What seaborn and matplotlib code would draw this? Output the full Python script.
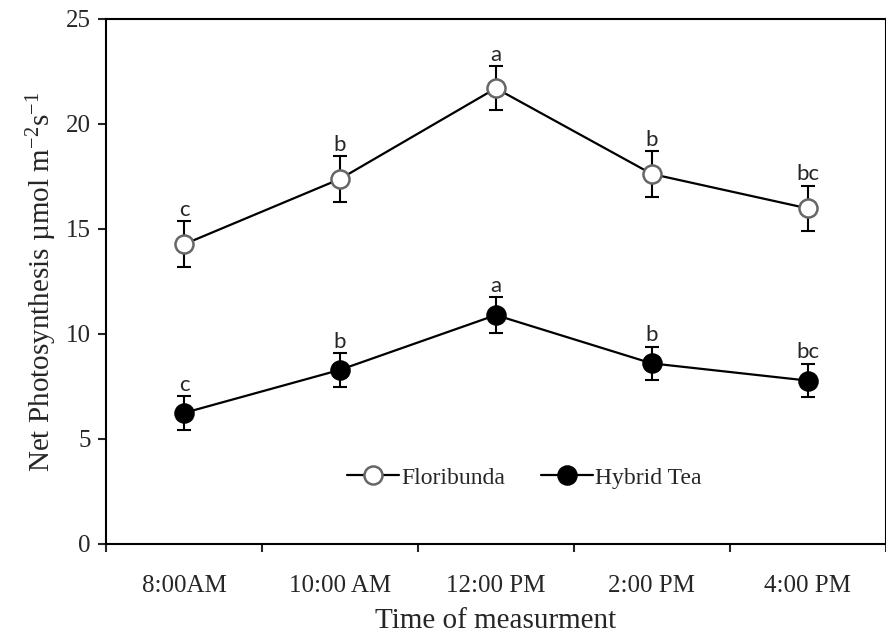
import numpy as np
import pandas as pd
import seaborn as sns
import matplotlib.pyplot as plt

# values
times = ["8:00AM", "10:00 AM", "12:00 PM", "2:00 PM", "4:00 PM"]
floribunda = [14.27, 17.38, 21.7, 17.62, 15.98]
floribunda_err = [1.1, 1.1, 1.05, 1.08, 1.08]
hybrid_tea = [6.24, 8.29, 10.9, 8.6, 7.78]
hybrid_tea_err = [0.8, 0.8, 0.85, 0.8, 0.8]
floribunda_letters = ["c", "b", "a", "b", "bc"]
hybrid_tea_letters = ["c", "b", "a", "b", "bc"]

df = pd.DataFrame({
    "pos": list(range(len(times))) * 2,
    "value": floribunda + hybrid_tea,
    "err": floribunda_err + hybrid_tea_err,
    "cultivar": ["Floribunda"] * len(times) + ["Hybrid Tea"] * len(times),
    "letter": floribunda_letters + hybrid_tea_letters,
})

sns.set_style("ticks")
plt.rcParams['font.family'] = ['Liberation Serif', 'DejaVu Serif']
plt.rcParams['mathtext.fontset'] = 'custom'
plt.rcParams['mathtext.rm'] = 'Liberation Serif'
plt.rcParams['mathtext.it'] = 'Liberation Serif:italic'

fig = plt.figure(figsize=(8.87, 6.39), dpi=100)
ax = fig.add_axes([0.1195, 0.1487, 0.879, 0.8216])

styles = {
    "Floribunda": dict(marker="o", markerfacecolor="white", markeredgecolor="#666666"),
    "Hybrid Tea": dict(marker="o", markerfacecolor="black", markeredgecolor="black"),
}

for name, sub in df.groupby("cultivar"):
    ax.errorbar(sub["pos"], sub["value"], yerr=sub["err"], fmt="none",
                ecolor="black", elinewidth=1.5, capsize=5, capthick=1.5, zorder=2)
    sns.lineplot(data=sub, x="pos", y="value", ax=ax, color="black", lw=1.6,
                 markersize=13, markeredgewidth=1.8, label=name, zorder=3,
                 **styles[name])
    for _, r in sub.iterrows():
        ax.annotate(r["letter"], (r["pos"], r["value"] + r["err"]),
                    xytext=(0, 1), textcoords="offset points", ha="center",
                    va="bottom", fontsize=16, family=["Lato", "DejaVu Sans"])

ax.set_xlim(-0.5, len(times) - 0.5)
ax.set_ylim(0, 25)
ax.set_yticks(range(0, 26, 5))
ax.set_xticks(np.arange(-0.5, len(times), 1.0))
ax.set_xticklabels([])
ax.set_xticks(range(len(times)), minor=True)
ax.set_xticklabels(times, minor=True)
ax.tick_params(axis="x", which="minor", length=0, pad=22, labelsize=18)
ax.tick_params(axis="x", which="major", length=6, width=1.5, direction="out")
ax.tick_params(axis="y", length=6, width=1.5, direction="out", labelsize=18, pad=5)

for s in ax.spines.values():
    s.set_linewidth(1.5)
    s.set_color("black")

ax.set_xlabel("Time of measurment", fontsize=21, labelpad=8)
ax.set_ylabel(r"Net Photosynthesis µmol m$^{\mathregular{-2}}$s$^{\mathregular{-1}}$",
              fontsize=21, labelpad=5)

ax.legend(loc="center", bbox_to_anchor=(0.537, 0.126), ncol=2, frameon=False,
          fontsize=17, handlelength=2.2, handletextpad=0.1, columnspacing=1.5)

fig.savefig("out.png", dpi=100)
